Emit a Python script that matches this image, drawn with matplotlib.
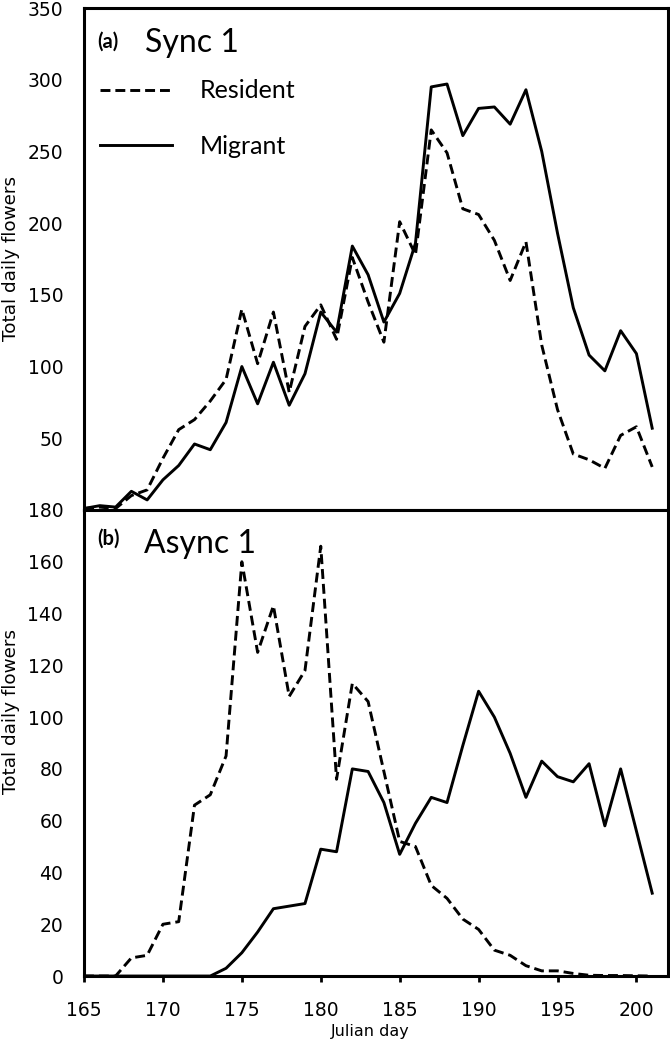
import numpy as np
import matplotlib.pyplot as plt

days = np.arange(165, 202)

sync_resident = [1, 2, 1, 10, 14, 36, 56, 63, 76, 91, 140, 102, 138, 82, 128, 143, 119,
                 176, 145, 117, 201, 178, 265, 249, 210, 206, 188, 160, 187, 115, 70, 39,
                 35, 29, 52, 58, 30]
sync_migrant = [1, 3, 2, 13, 7, 21, 31, 46, 42, 61, 100, 74, 103, 73, 95, 138, 124,
                184, 164, 131, 151, 186, 295, 297, 261, 280, 281, 269, 293, 250, 193, 141,
                108, 97, 125, 109, 57]
async_resident = [0, 0, 0, 7, 8, 20, 21, 66, 70, 85, 160, 125, 143, 108, 118, 166, 76,
                  113, 106, 79, 52, 50, 35, 30, 22, 18, 10, 8, 4, 2, 2, 1,
                  0.3, 0.2, 0.2, 0.1, 0]
async_migrant = [0, 0, 0, 0, 0, 0, 0, 0, 0, 3, 9, 17, 26, 27, 28, 49, 48,
                 80, 79, 67, 47, 59, 69, 67, 89, 110, 100, 86, 69, 83, 77, 75,
                 82, 58, 80, 56, 32]

sync_ticks = [50, 100, 150, 200, 250, 300, 350]
async_ticks = [0, 20, 40, 60, 80, 100, 120, 140, 160, 180]
day_ticks = [165, 170, 175, 180, 185, 190, 195, 200]

plt.rcParams['font.family'] = 'DejaVu Sans'

fig = plt.figure(figsize=(6.7, 10.42), dpi=100)
ax1 = fig.add_axes([0.1254, 0.5106, 0.8716, 0.4817])
ax2 = fig.add_axes([0.1254, 0.0633, 0.8716, 0.4473])

dash = (3.4, 1.7)

# top panel
ax1.plot(days, sync_resident, color='black', lw=2.1, dashes=dash, label='Resident')
ax1.plot(days, sync_migrant, color='black', lw=2.1, label='Migrant')
ax1.set_xlim(165, 202)
ax1.set_ylim(0, 350)
ax1.set_yticks(sync_ticks)
ax1.set_xticks([])
ax1.set_ylabel('Total daily flowers', fontsize=13.2)
ax1.yaxis.set_label_coords(-0.11, 0.5)
ax1.text(0.022, 0.922, '(a)', transform=ax1.transAxes, fontsize=14.5,
         fontweight='bold', family='Lato')
ax1.text(0.104, 0.912, 'Sync 1', transform=ax1.transAxes, fontsize=23, family='Lato')
leg = ax1.legend(loc='upper left', bbox_to_anchor=(0.027, 0.858), frameon=False,
                 prop={'family': 'Lato', 'size': 18}, handlelength=2.9,
                 handletextpad=1.1, labelspacing=1.3, borderpad=0, borderaxespad=0)

# bottom panel
ax2.plot(days, async_resident, color='black', lw=2.1, dashes=dash)
ax2.plot(days, async_migrant, color='black', lw=2.1)
ax2.set_xlim(165, 202)
ax2.set_ylim(0, 180)
ax2.set_yticks(async_ticks)
ax2.set_xticks(day_ticks)
ax2.set_ylabel('Total daily flowers', fontsize=13.2)
ax2.yaxis.set_label_coords(-0.11, 0.567)
ax2.set_xlabel('Julian day', fontsize=11.5)
ax2.xaxis.set_label_coords(0.49, -0.103)
ax2.text(0.022, 0.925, '(b)', transform=ax2.transAxes, fontsize=14.5,
         fontweight='bold', family='Lato')
ax2.text(0.103, 0.908, 'Async 1', transform=ax2.transAxes, fontsize=23, family='Lato')

for ax in (ax1, ax2):
    for s in ax.spines.values():
        s.set_linewidth(2.2)
    ax.tick_params(axis='y', length=0, pad=15, labelsize=13.5)
ax2.tick_params(axis='x', direction='out', length=4, width=2, pad=14, labelsize=13.5)

plt.savefig('out.png', dpi=100)
